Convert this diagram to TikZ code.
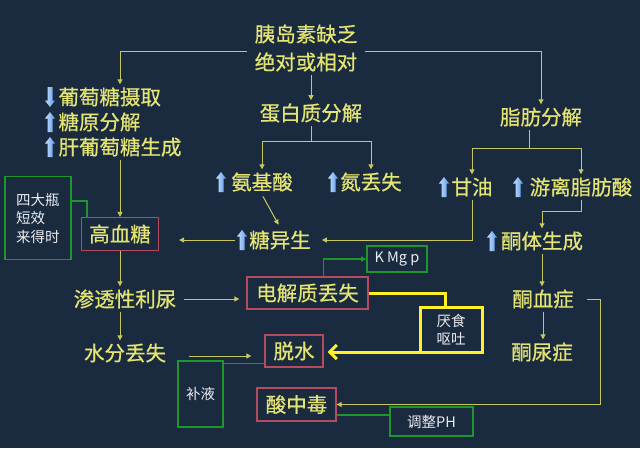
\documentclass[tikz,border=0pt]{standalone}
\usepackage{fontspec}
\setmainfont{Noto Sans CJK SC}
\newfontfamily\ytf[FakeBold=0.6]{Noto Sans CJK SC}
\usetikzlibrary{arrows.meta,calc}
\definecolor{bgc}{RGB}{27,43,63}
\definecolor{ytext}{RGB}{228,228,115}
\definecolor{yline}{RGB}{200,200,95}
\definecolor{redb}{RGB}{180,75,95}
\definecolor{greenb}{RGB}{30,150,45}
\definecolor{ybright}{RGB}{255,240,40}
\definecolor{wtext}{RGB}{236,236,240}
\definecolor{arrL}{RGB}{200,225,255}
\definecolor{arrR}{RGB}{90,150,230}
\begin{document}
\begin{tikzpicture}[x=1pt,y=-1pt,
  txt/.style={text=ytext,font=\ytf\fontsize{20.5}{25}\selectfont,inner sep=3pt},
  rbox/.style={txt,draw=redb,line width=1.3pt},
  gbox/.style={draw=greenb,line width=1.6pt,text=wtext,font=\fontsize{14.5}{18.5}\selectfont,inner sep=2pt},
  ybox/.style={draw=ybright,line width=3pt,text=wtext,font=\fontsize{14.5}{18}\selectfont,inner sep=2pt},
  ln/.style={draw=yline,line width=1pt},
  gl/.style={draw=greenb,line width=1.4pt},
  yl/.style={draw=ybright,line width=3pt},
  arr/.style={-{Triangle[length=5pt,width=5pt]}},
  yarr/.style={-{Straight Barb[length=7pt,width=14pt]}},
  upar/.pic={\shade[left color=arrL,right color=arrR] (-2.5,10) -- (-2.5,-3.5) -- (-5,-3.5) -- (0,-10) -- (5,-3.5) -- (2.5,-3.5) -- (2.5,10) -- cycle;},
  dnar/.pic={\shade[left color=arrL,right color=arrR] (-2.5,-10) -- (-2.5,3.5) -- (-5,3.5) -- (0,10) -- (5,3.5) -- (2.5,3.5) -- (2.5,-10) -- cycle;}
]
\useasboundingbox (0,0) rectangle (640,448);
\fill[bgc] (0,0) rectangle (640,448);

% text nodes
\node[txt,font=\ytf\fontsize{20.5}{28}\selectfont,align=center,inner xsep=8pt] (ins) at (306,48) {胰岛素缺乏\\绝对或相对};
\node[txt,align=left] (glu) at (120,122) {葡萄糖摄取\\糖原分解\\肝葡萄糖生成};
\pic at (50,97) {dnar};
\pic at (50,122) {upar};
\pic at (50,147) {upar};
\node[txt] (pro) at (311,113) {蛋白质分解};
\node[txt] (fat) at (541,117) {脂肪分解};
\node[txt] (aa) at (262,182) {氨基酸};
\pic at (221,182) {upar};
\node[txt] (nl) at (371,182) {氮丢失};
\pic at (333,182) {upar};
\node[txt] (gly) at (472,187) {甘油};
\pic at (444,187) {upar};
\node[txt] (ffa) at (581,187) {游离脂肪酸};
\pic at (518,187) {upar};
\node[txt] (tys) at (280,240) {糖异生};
\pic at (242,240) {upar};
\node[txt] (ket) at (542,241) {酮体生成};
\pic at (492,241) {upar};
\node[txt] (kxz) at (543,299) {酮血症};
\node[txt] (kuz) at (542,352) {酮尿症};
\node[txt] (shen) at (125,299) {渗透性利尿};
\node[txt] (sf) at (125,353) {水分丢失};

% boxes
\node[rbox,minimum width=77pt,minimum height=33pt] (gxt) at (120,234) {高血糖};
\node[gbox,align=left,minimum width=66pt,minimum height=83pt] (sdp) at (38,218) {四大瓶\\短效\\来得时};
\node[rbox,minimum width=121pt,minimum height=32pt] (dj) at (307.5,293) {电解质丢失};
\node[gbox,minimum width=60pt,minimum height=26pt] (kmp) at (397,259) {K Mg p};
\node[ybox,align=center,minimum width=62pt,minimum height=45pt] (ym) at (451,329.5) {厌食\\呕吐};
\node[rbox,minimum width=58pt,minimum height=32pt] (ts) at (294,351) {脱水};
\node[gbox,minimum width=45pt,minimum height=66pt] (bl) at (200.5,394) {补液};
\node[rbox,minimum width=79pt,minimum height=33pt] (acid) at (296.5,404.5) {酸中毒};
\node[gbox,minimum width=83pt,minimum height=29pt] (tz) at (431.5,421.5) {调整PH};

% connectors
\draw[ln,arr] ($(ins.west)+(0,3)$) -| (glu.north);
\draw[ln,arr] ($(ins.east)+(0,3)$) -| (fat.north);
\draw[ln,arr] (ins.south -| pro.north) -- (pro.north);
\draw[ln] (pro.south) -- ++(0,16) coordinate (pf);
\draw[ln,arr] (pf) -| (aa.north);
\draw[ln,arr] (pf) -| (nl.north);
\coordinate (ff) at (529,148);
\draw[ln] (fat.south -| ff) -- (ff);
\draw[ln,arr] (ff) -| (gly.north);
\draw[ln,arr] (ff) -| (ffa.north);
\draw[ln,arr,shorten <=2pt,shorten >=3pt] (aa.south) -- (tys.north);
\draw[ln,arr] (gly.south) |- ([xshift=8pt]tys.east);
\draw[ln,arr,shorten >=20pt] ($(tys.west)+(-11,0)$) coordinate (t1) -- (t1 -| gxt.east);
\draw[ln,arr] (ffa.south) -- ++(0,12) -| (ket.north);
\draw[ln,arr] (ket.south) -- (ket.south |- kxz.north);
\draw[ln,arr] (kxz.south) -- (kxz.south |- kuz.north);
\draw[ln,arr] ([xshift=10pt]kxz.east) -- ++(14,0) |- (acid.east);
\draw[ln,arr] (glu.south) -- (gxt.north);
\draw[gl] ($(sdp.east)+(0,-17)$) -| ($(gxt.north west)+(6,0)$);
\draw[ln,arr] (gxt.south) -- (gxt.south |- shen.north);
\draw[ln,arr,shorten >=7pt] ([xshift=5pt]shen.east) -- (shen.east -| dj.west);
\draw[ln,arr] (gxt.south |- shen.south) -- (gxt.south |- sf.north);
\draw[ln,arr,shorten >=13pt] ($(sf.east)+(20,3)$) coordinate (s1) -- (s1 -| ts.west);
\draw[gl] ($(bl.north east)+(0,3)$) coordinate (b1) -- (b1 -| ts.west);
\draw[gl,arr] ($(dj.north)+(16,0)$) |- (kmp.west);
\draw[yl] (dj.east) -| ($(ym.north)+(-6,0)$);
\draw[yl,yarr,shorten >=4pt] ($(ym.south west)+(0,-1.5)$) coordinate (y1) -- (y1 -| ts.east);
\draw[gl] ($(acid.east)+(0,10.5)$) coordinate (a1) -- (a1 -| tz.west);
\end{tikzpicture}
\end{document}
